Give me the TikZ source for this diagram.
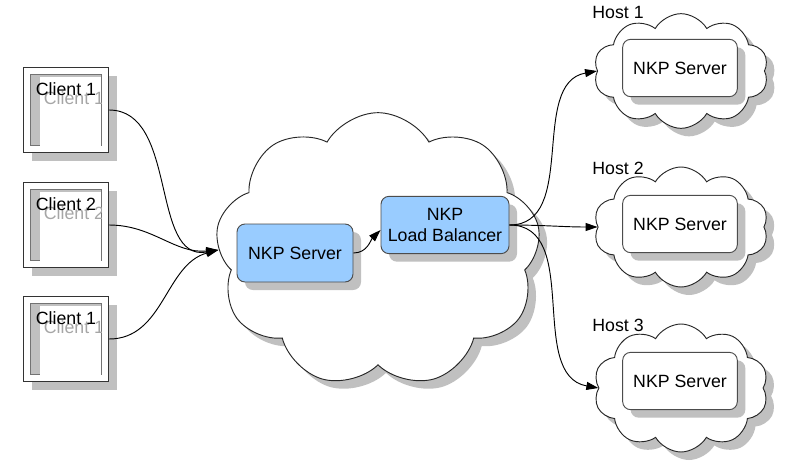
\documentclass[tikz,border=0pt]{standalone}
\usepackage{fontspec}
\setmainfont{Liberation Sans}
\usepackage{tikz}
\usetikzlibrary{arrows.meta}
\usetikzlibrary{calc}
\usetikzlibrary{shapes.symbols}
\usetikzlibrary{shadows}
\definecolor{nkpblue}{HTML}{99CCFF}
\definecolor{shadowgray}{HTML}{C0C0C0}

\begin{document}
\begin{tikzpicture}[x=0.75pt, y=-0.75pt, line width=0.7pt,
    every node/.style={font=\fontsize{13.3}{15.5}\selectfont, color=black},
    soft shadow/.style={drop shadow={shadow xshift=6pt, shadow yshift=-6pt, fill=shadowgray, opacity=1}},
    client box/.style={draw=black!80, fill=white, minimum size=63.75pt, inner sep=0pt, soft shadow},
    client screen/.style={draw=black!55, fill=shadowgray, minimum size=53.25pt, inner sep=0pt},
    ghost text/.style={color=black!35},
    net cloud/.style={cloud, cloud puffs=10, cloud puff arc=120, cloud ignores aspect, draw=black!85, fill=white, inner sep=0pt, soft shadow},
    blue box/.style={rectangle, rounded corners=6pt, draw=black!70, fill=nkpblue, align=center, inner sep=0pt, soft shadow},
    host box/.style={rectangle, rounded corners=6pt, draw=black!70, fill=white, minimum width=86pt, minimum height=43pt, inner sep=0pt, soft shadow},
    conn/.style={-{Triangle[length=9pt, width=6pt]}},
    ]

\useasboundingbox (0,0) rectangle (800,465);

%% draw clouds
\node[net cloud, cloud puffs=9, minimum width=244pt, minimum height=206pt] (bigcloud) at (378,250) {};
\node[net cloud, minimum width=131pt, minimum height=86pt] (cloud1) at (681,71) {};
\node[net cloud, minimum width=131pt, minimum height=90pt] (cloud2) at (681,227) {};
\node[net cloud, minimum width=131pt, minimum height=96pt] (cloud3) at (681,388) {};

%% host labels
\node (host1) at (618,12) {Host 1};
\node (host2) at (618,168) {Host 2};
\node (host3) at (618,325) {Host 3};

%% draw servers
\node[blue box, minimum width=87pt, minimum height=43.5pt] (server) at (295,253) {NKP Server};
\node[blue box, minimum width=96pt, minimum height=43pt] (balancer) at (445,225) {NKP\\Load Balancer};
\node[host box] (hs1) at (680,68) {NKP Server};
\node[host box] (hs2) at (680,224) {NKP Server};
\node[host box] (hs3) at (680,381) {NKP Server};

%% draw clients
\node[client box] (c1) at (66,110) {};
\node[client screen] (s1) at (c1) {};
\fill[white] ($(s1.north west)+(10,2.5)$) rectangle ($(s1.south east)+(-0.6,0.6)$);
\begin{scope}
  \clip (s1.north west) rectangle (s1.south east);
  \node[ghost text] (g1) at ($(s1)+(8,-12)$) {Client 1};
\end{scope}
\node (t1) at ($(s1)+(0,-21)$) {Client 1};

\node[client box] (c2) at (66,225) {};
\node[client screen] (s2) at (c2) {};
\fill[white] ($(s2.north west)+(10,2.5)$) rectangle ($(s2.south east)+(-0.6,0.6)$);
\begin{scope}
  \clip (s2.north west) rectangle (s2.south east);
  \node[ghost text] (g2) at ($(s2)+(8,-12)$) {Client 2};
\end{scope}
\node (t2) at ($(s2)+(0,-21)$) {Client 2};

\node[client box] (c3) at (66,339) {};
\node[client screen] (s3) at (c3) {};
\fill[white] ($(s3.north west)+(10,2.5)$) rectangle ($(s3.south east)+(-0.6,0.6)$);
\begin{scope}
  \clip (s3.north west) rectangle (s3.south east);
  \node[ghost text] (g3) at ($(s3)+(8,-12)$) {Client 1};
\end{scope}
\node (t3) at ($(s3)+(0,-21)$) {Client 1};

%% draw arrows
\draw[conn] (c1.east) to[out=0, in=190] (bigcloud.west);
\draw[conn] (c2.east) to[out=0, in=185] (bigcloud.west);
\draw[conn] (c3.east) to[out=0, in=195] (bigcloud.west);
\draw[conn] (server.east) to[out=0, in=225] ($(balancer.west)+(0,5)$);
\draw[conn] (balancer.east) to[out=0, in=190] (cloud1.west);
\draw[conn] (balancer.east) to[out=0, in=180] (cloud2.west);
\draw[conn] (balancer.east) to[out=0, in=170] (cloud3.west);

\end{tikzpicture}
\end{document}
